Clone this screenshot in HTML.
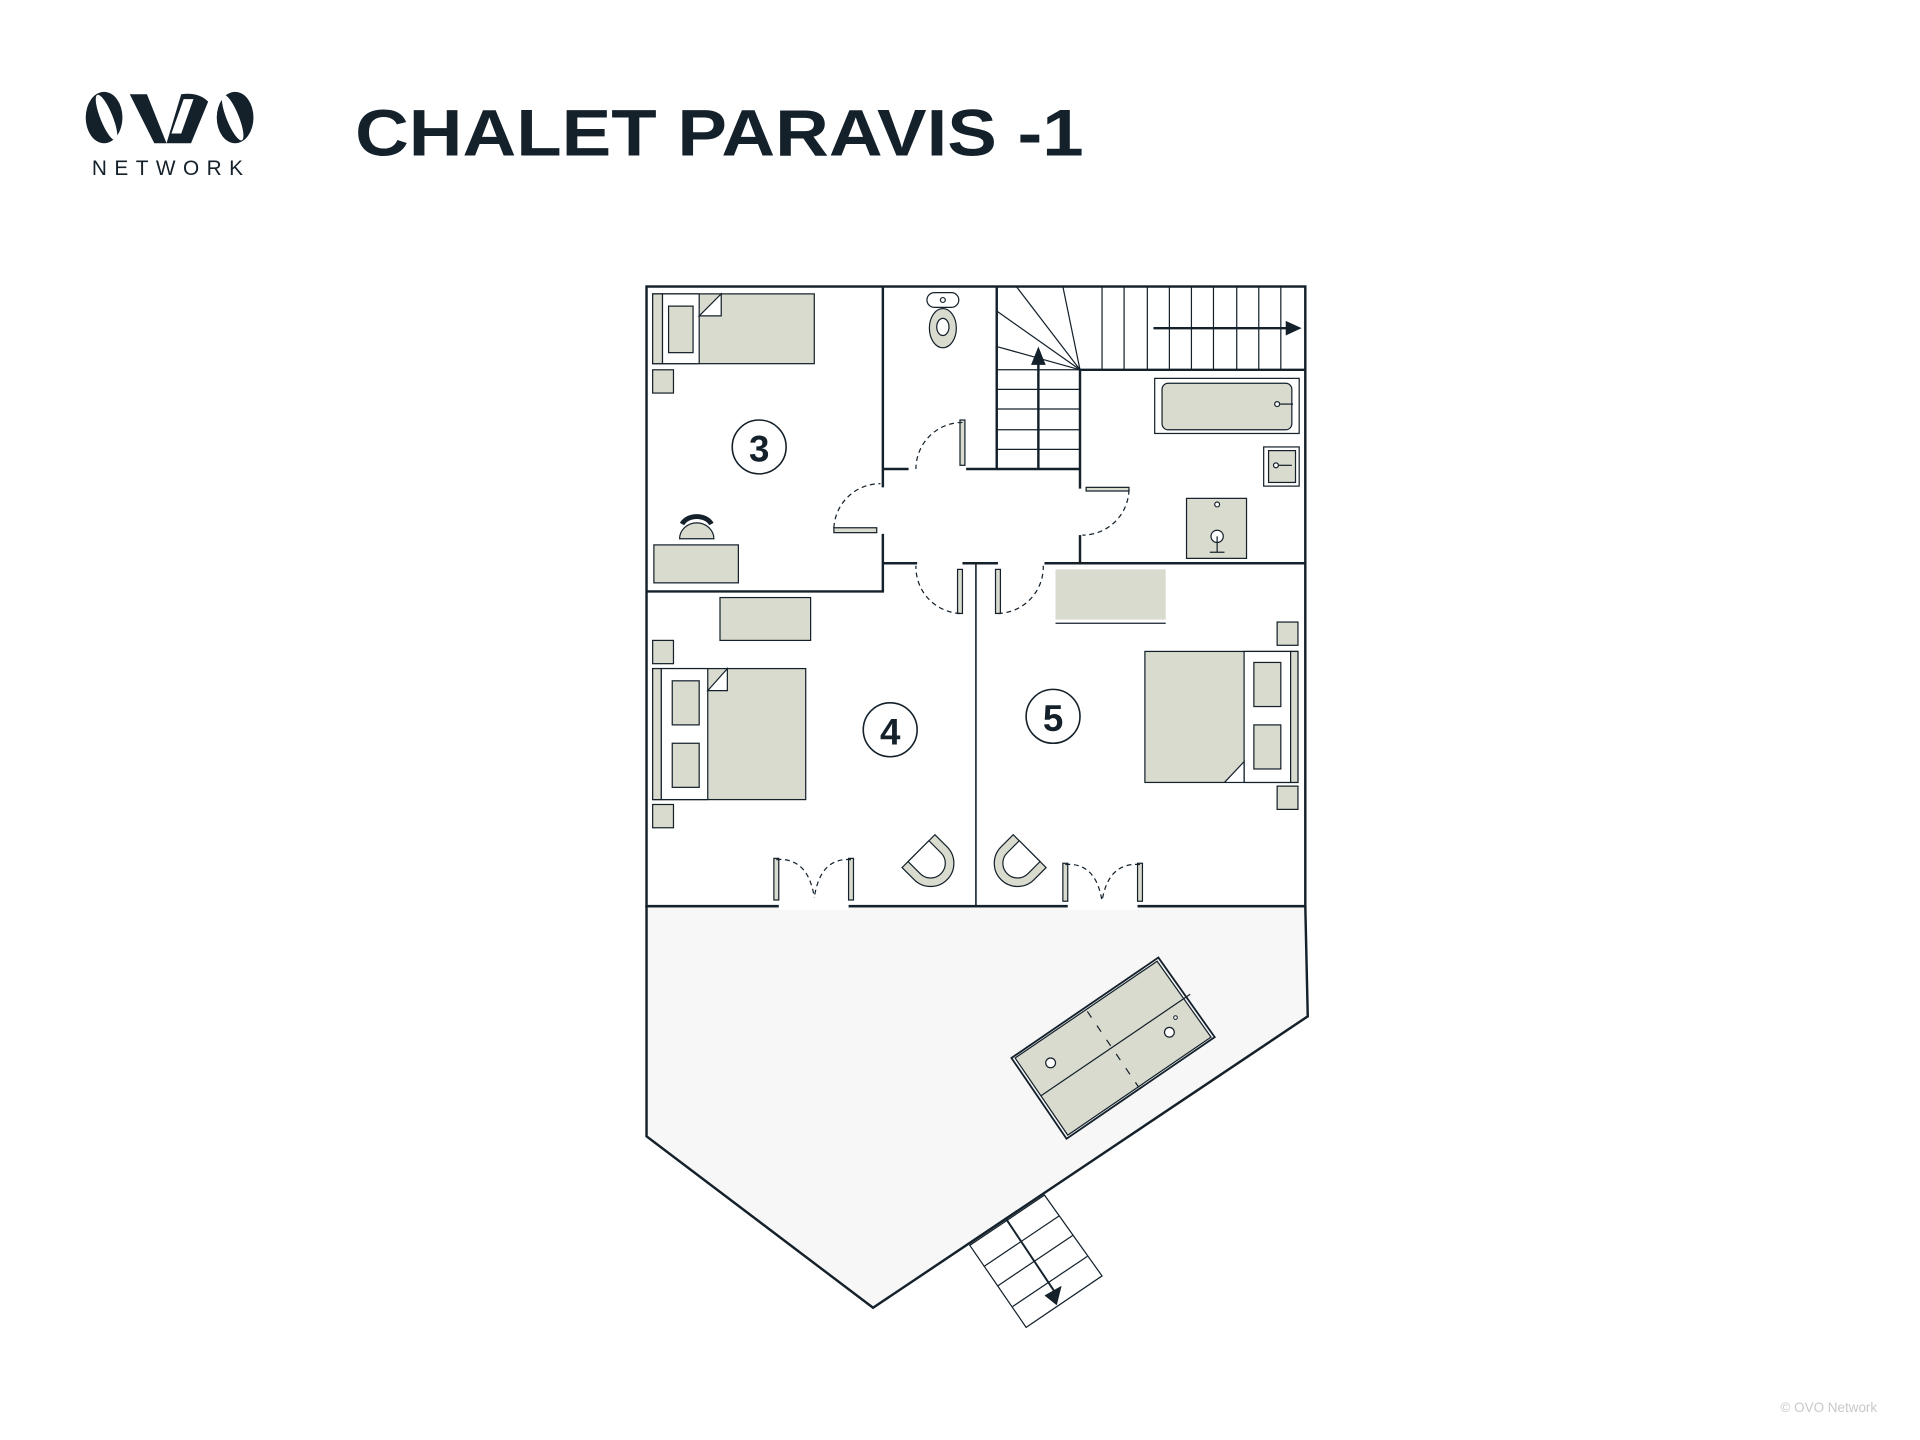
<!DOCTYPE html>
<html><head><meta charset="utf-8"><style>
html,body{margin:0;padding:0;background:#fff;}
svg{display:block;}
</style></head><body>
<svg width="1920" height="1440" viewBox="0 0 1568 1176" preserveAspectRatio="none" xmlns="http://www.w3.org/2000/svg">
<g fill="#14212b">
<!-- logo -->
<g transform="translate(70,75)">
<ellipse cx="15" cy="21" rx="15" ry="21"/>
<ellipse cx="17" cy="21" rx="5" ry="20" fill="#fff" transform="rotate(-22 17 21)"/>
<ellipse cx="122" cy="21" rx="15" ry="21"/>
<ellipse cx="120" cy="21" rx="5" ry="20" fill="#fff" transform="rotate(-22 120 21)"/>
<path d="M36,2 L50,2 L66,42 L56,42 Z"/>
<path d="M66,42 L78,2 Q92,0 100,8 L86,42 Z"/>
<path d="M70,34 L80,6 L88,6 L78,34 Z" fill="#fff"/>
</g>
<text x="75" y="143" font-family="Liberation Sans, sans-serif" font-size="17" letter-spacing="4.5" textLength="128">NETWORK</text>
<text x="290" y="127" font-family="Liberation Sans, sans-serif" font-weight="bold" font-size="54" textLength="595" lengthAdjust="spacingAndGlyphs">CHALET PARAVIS -1</text>
</g>
<text x="1533" y="1153" text-anchor="end" font-family="Liberation Sans, sans-serif" font-size="11" fill="#c8c8c8">© OVO Network</text>

<!-- deck -->
<polygon points="528,740 1066,740 1068,830 713,1068 528,928" fill="#f7f7f7" stroke="#14212b" stroke-width="2"/>
<!-- pool -->
<polygon points="826,864 946,782 992,847 871,930" fill="#f7f7f7" stroke="#14212b" stroke-width="1.5"/>
<polygon points="829,864 945,785 989,847 872,927" fill="#dadbcf" stroke="#14212b" stroke-width="1"/>
<line x1="850" y1="895" x2="972" y2="812" stroke="#14212b" stroke-width="1"/>
<g stroke="#14212b" stroke-width="1" stroke-dasharray="6,8"><line x1="888" y1="826" x2="930" y2="888"/></g>
<circle cx="858" cy="868" r="4" fill="#fff" stroke="#14212b"/>
<circle cx="955" cy="843" r="4" fill="#fff" stroke="#14212b"/>
<circle cx="960" cy="831" r="1.5" fill="#fff" stroke="#14212b" stroke-width="0.8"/>
<!-- outer stairs -->
<g stroke="#14212b" stroke-width="1" fill="none">
<polygon points="792,1017 853,976 900,1042 838,1084" fill="#fff"/>
<line x1="804" y1="1034" x2="865" y2="993"/>
<line x1="815" y1="1050" x2="876" y2="1009"/>
<line x1="827" y1="1067" x2="888" y2="1026"/>
<line x1="822" y1="996" x2="862" y2="1056" stroke-width="1.6"/>
</g>
<polygon points="853,1058 867,1050 863,1066" fill="#14212b"/>

<rect x="528" y="234" width="538" height="506" fill="#fff"/>
<g fill="#dadbcf" stroke="#14212b" stroke-width="1">
<rect x="533" y="240" width="132" height="57"/>
<rect x="541" y="240" width="30" height="57" fill="#fff"/>
<rect x="533" y="240" width="8" height="57"/>
<rect x="546" y="250" width="20" height="38"/>
<rect x="533" y="302" width="17" height="19"/>
<rect x="534" y="445" width="69" height="31"/>
<path d="M555,440 A14,13 0 0 1 583,440 Z"/>
<path d="M557,428 A13,10 0 0 1 581,428" fill="none" stroke-width="4"/>
<rect x="943" y="309" width="118" height="45" fill="#fff"/>
<rect x="949" y="313" width="106" height="38" rx="5"/>
<rect x="1032" y="365" width="29" height="32" fill="#fff"/>
<rect x="1036" y="368" width="22" height="26"/>
<rect x="969" y="407" width="49" height="49"/>
<rect x="588" y="488" width="74" height="35"/>
<rect x="533" y="523" width="17" height="19"/>
<rect x="533" y="657" width="17" height="19"/>
<rect x="533" y="546" width="125" height="107"/>
<rect x="540" y="546" width="38" height="107" fill="#fff"/>
<rect x="533" y="546" width="7" height="107"/>
<rect x="549" y="556" width="22" height="36"/>
<rect x="549" y="607" width="22" height="36"/>
<rect x="935" y="532" width="125" height="107"/>
<rect x="1016" y="532" width="38" height="107" fill="#fff"/>
<rect x="1054" y="532" width="6" height="107"/>
<rect x="1024" y="541" width="22" height="36"/>
<rect x="1024" y="592" width="22" height="36"/>
<rect x="1043" y="508" width="17" height="19"/>
<rect x="1043" y="642" width="17" height="19"/>
</g>
<rect x="862" y="465" width="90" height="41" fill="#dadbcf"/>
<line x1="862" y1="509" x2="952" y2="509" stroke="#14212b" stroke-width="1"/>
<g fill="#fff" stroke="#14212b" stroke-width="1">
<path d="M571,258 L589,240 L589,258 Z"/>
<path d="M578,564 L594,546 L594,564 Z"/>
<path d="M1016,622 L1000,639 L1016,639 Z"/>
</g>
<g stroke="#14212b" stroke-width="1" fill="#dadbcf">
<rect x="757" y="239" width="26" height="12" rx="6" fill="#fff"/>
<ellipse cx="770" cy="268" rx="11" ry="16"/>
<ellipse cx="770" cy="267" rx="5" ry="7" fill="#fff"/>
<circle cx="770" cy="245" r="2" fill="#fff"/>
</g>
<g stroke="#14212b" stroke-width="1" fill="#fff">
<circle cx="1043" cy="330" r="2"/><line x1="1045" y1="330" x2="1056" y2="330"/>
<circle cx="1042" cy="380" r="2"/><line x1="1044" y1="380" x2="1055" y2="380"/>
<circle cx="994" cy="412" r="2"/>
<circle cx="994" cy="438" r="5"/>
<line x1="994" y1="438" x2="994" y2="451"/><line x1="988" y1="451" x2="1000" y2="451"/>
</g>

<g stroke="#14212b" stroke-width="2" fill="none">
<rect x="528" y="234" width="538" height="506"/>
<polyline points="721,234 721,398"/>
<polyline points="721,436 721,483 528,483"/>
<line x1="721" y1="383" x2="742" y2="383"/>
<line x1="789" y1="383" x2="882" y2="383"/>
<line x1="814" y1="234" x2="814" y2="383"/>
<line x1="882" y1="302" x2="882" y2="399"/>
<line x1="882" y1="437" x2="882" y2="460"/>
<line x1="853" y1="460" x2="1066" y2="460"/>
<line x1="721" y1="460" x2="749" y2="460"/>
<line x1="786" y1="460" x2="815" y2="460"/>
<line x1="882" y1="302" x2="1066" y2="302"/>
</g>
<line x1="797" y1="460" x2="797" y2="740" stroke="#14212b" stroke-width="1.3"/>
<g stroke="#14212b" stroke-width="1" fill="none">
<line x1="900" y1="234" x2="900" y2="302"/><line x1="918" y1="234" x2="918" y2="302"/>
<line x1="937" y1="234" x2="937" y2="302"/><line x1="955" y1="234" x2="955" y2="302"/>
<line x1="973" y1="234" x2="973" y2="302"/><line x1="991" y1="234" x2="991" y2="302"/>
<line x1="1010" y1="234" x2="1010" y2="302"/><line x1="1028" y1="234" x2="1028" y2="302"/>
<line x1="1046" y1="234" x2="1046" y2="302"/>
<line x1="814" y1="302" x2="882" y2="302"/><line x1="814" y1="318" x2="882" y2="318"/>
<line x1="814" y1="334" x2="882" y2="334"/><line x1="814" y1="351" x2="882" y2="351"/>
<line x1="814" y1="367" x2="882" y2="367"/>
<line x1="882" y1="302" x2="814" y2="254"/><line x1="882" y1="302" x2="814" y2="283"/>
<line x1="882" y1="302" x2="830" y2="234"/><line x1="882" y1="302" x2="868" y2="234"/>
<line x1="848" y1="383" x2="848" y2="292" stroke-width="2"/>
<line x1="942" y1="268" x2="1052" y2="268" stroke-width="2"/>
</g>
<polygon points="842,298 848,283 854,298" fill="#14212b"/>
<polygon points="1050,262 1063,268 1050,274" fill="#14212b"/>
<g stroke="#14212b" stroke-width="1" fill="#dadbcf">
<rect x="784" y="343" width="4" height="37"/>
<rect x="681" y="431" width="35" height="4"/>
<rect x="887" y="398" width="35" height="3"/>
<rect x="782" y="465" width="4" height="36"/>
<rect x="813" y="465" width="4" height="36"/>
<rect x="632" y="701" width="4" height="34"/>
<rect x="693" y="701" width="4" height="34"/>
<rect x="868" y="705" width="4" height="31"/>
<rect x="929" y="705" width="4" height="31"/>
</g>
<g stroke="#14212b" stroke-width="1" fill="none" stroke-dasharray="4,3">
<path d="M786,345 A38,38 0 0 0 748,383"/>
<path d="M681,431 A38,38 0 0 1 719,395"/>
<path d="M922,400 A38,38 0 0 1 884,437"/>
<path d="M784,501 A38,38 0 0 1 748,462"/>
<path d="M815,501 A38,38 0 0 0 852,462"/>
<path d="M634,702 Q660,700 665,733"/>
<path d="M695,702 Q670,700 665,733"/>
<path d="M870,706 Q895,704 900,736"/>
<path d="M931,706 Q905,704 900,736"/>
</g>
<rect x="636" y="738" width="57" height="5" fill="#fff"/>
<rect x="872" y="738" width="57" height="5" fill="#fff"/>
<g fill="#dadbcf" stroke="#14212b" stroke-width="1">
<g transform="translate(760,705) rotate(-45)">
<path d="M-19,-14 L-19,0 A19,19 0 0 0 19,0 L19,-14 Z"/>
<path d="M-12,-14 L-12,0 A12,12 0 0 0 12,0 L12,-14 Z" fill="#fff"/>
</g>
<g transform="translate(831,705) rotate(45)">
<path d="M-19,-14 L-19,0 A19,19 0 0 0 19,0 L19,-14 Z"/>
<path d="M-12,-14 L-12,0 A12,12 0 0 0 12,0 L12,-14 Z" fill="#fff"/>
</g>
</g>
<g font-family="Liberation Sans, sans-serif" font-weight="bold" font-size="30" fill="#14212b" text-anchor="middle">
<circle cx="620" cy="365" r="22" fill="#fff" stroke="#14212b" stroke-width="1.3"/>
<text x="620" y="377">3</text>
<circle cx="727" cy="596" r="22" fill="#fff" stroke="#14212b" stroke-width="1.3"/>
<text x="727" y="608">4</text>
<circle cx="860" cy="585" r="22" fill="#fff" stroke="#14212b" stroke-width="1.3"/>
<text x="860" y="597">5</text>
</g>
</svg>
</body></html>
